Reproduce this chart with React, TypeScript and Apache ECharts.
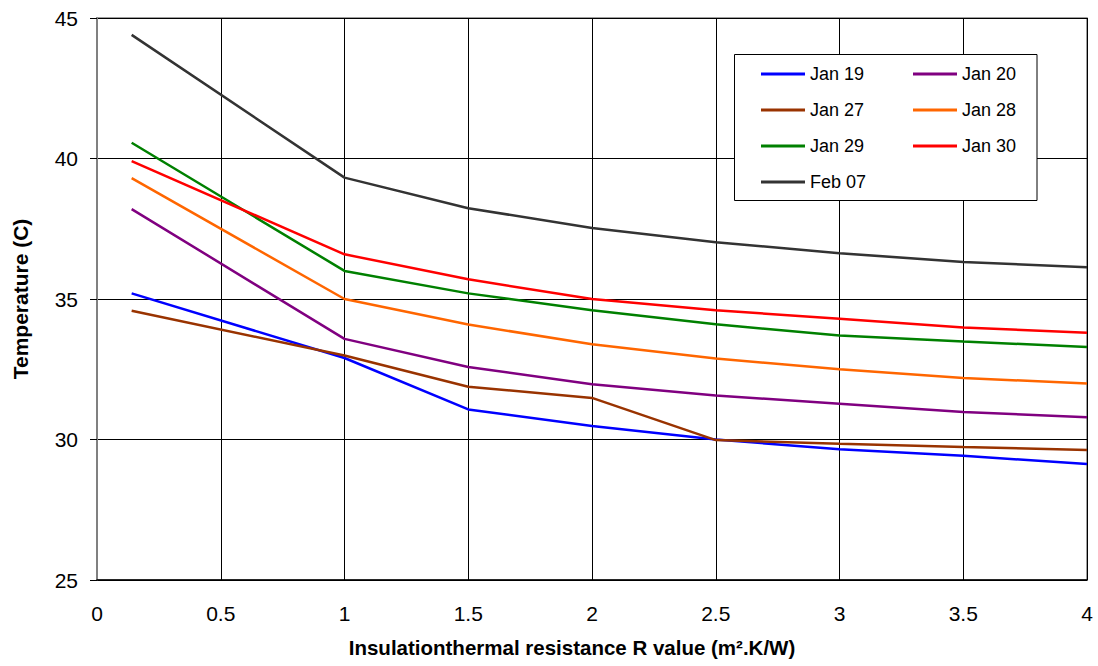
import React, { useEffect, useRef } from "react";
import * as echarts from "echarts";

const xValues = [0.14, 1, 1.5, 2, 2.5, 3, 3.5, 4];
const seriesNames = ["Jan 19", "Jan 20", "Jan 27", "Jan 28", "Jan 29", "Jan 30", "Feb 07"];
const jan19 = [35.2, 32.9, 31.07, 30.48, 30.0, 29.65, 29.42, 29.13];
const jan20 = [38.2, 33.58, 32.58, 31.97, 31.57, 31.27, 30.98, 30.79];
const jan27 = [34.58, 32.99, 31.88, 31.48, 29.98, 29.85, 29.73, 29.63];
const jan28 = [39.3, 35.0, 34.09, 33.39, 32.88, 32.5, 32.19, 31.99];
const jan29 = [40.56, 36.0, 35.2, 34.6, 34.1, 33.7, 33.49, 33.29];
const jan30 = [39.91, 36.59, 35.7, 35.0, 34.6, 34.3, 33.99, 33.8];
const feb07 = [44.4, 39.32, 38.23, 37.53, 37.02, 36.63, 36.32, 36.13];
const seriesValues = [jan19, jan20, jan27, jan28, jan29, jan30, feb07];
const seriesColors = ["#0000FF", "#800080", "#993300", "#FF6600", "#008000", "#FF0000", "#333333"];
const legendCol1 = ["Jan 19", "Jan 27", "Jan 29", "Feb 07"];
const legendCol2 = ["Jan 20", "Jan 28", "Jan 30"];
const xTitle = "Insulationthermal resistance R value (m².K/W)";
const yTitle = "Temperature (C)";

const FONT = "'Liberation Sans', Arial, sans-serif";

export default function App() {
  const ref = useRef<HTMLDivElement>(null);
  useEffect(() => {
    if (!ref.current) return;
    const chart = echarts.init(ref.current, undefined, { renderer: "svg" });
    const legendCommon = {
      orient: "vertical" as const,
      top: 64,
      padding: 0,
      icon: "rect",
      itemWidth: 44,
      itemHeight: 3,
      itemGap: 16,
      z: 20,
      textStyle: { fontFamily: FONT, fontSize: 18, color: "#000", lineHeight: 20 },
      selectedMode: false,
    };
    chart.setOption({
      animation: false,
      backgroundColor: "#fff",
      textStyle: { fontFamily: FONT },
      grid: {
        left: 97,
        right: 11,
        top: 18,
        bottom: 86,
        show: true,
        borderColor: "#808080",
        borderWidth: 1.5,
      },
      legend: [
        { ...legendCommon, left: 761, data: legendCol1 },
        { ...legendCommon, left: 913, data: legendCol2 },
      ],
      graphic: [
        {
          type: "rect",
          z: 15,
          shape: { x: 734.5, y: 54.5, width: 302.5, height: 146 },
          style: { fill: "#fff", stroke: "#000", lineWidth: 1 },
        },
      ],
      xAxis: {
        type: "value",
        min: 0,
        max: 4,
        interval: 0.5,
        name: xTitle,
        nameLocation: "middle",
        nameGap: 57,
        nameTextStyle: {
          fontFamily: FONT,
          fontSize: 20.5,
          fontWeight: "bold",
          color: "#000",
          padding: [0, 40, 0, 0],
        },
        axisLine: { show: true, lineStyle: { color: "#000", width: 1.5 } },
        axisTick: { show: false },
        axisLabel: { fontFamily: FONT, fontSize: 21, color: "#000", margin: 23 },
        splitLine: { show: true, lineStyle: { color: "#000", width: 1 } },
      },
      yAxis: {
        type: "value",
        min: 25,
        max: 45,
        interval: 5,
        name: yTitle,
        nameLocation: "middle",
        nameGap: 66,
        nameTextStyle: {
          fontFamily: FONT,
          fontSize: 21,
          fontWeight: "bold",
          color: "#000",
        },
        axisLine: { show: true, lineStyle: { color: "#808080", width: 2 } },
        axisTick: { show: true, length: 7, lineStyle: { color: "#000", width: 1 } },
        axisLabel: { fontFamily: FONT, fontSize: 21, color: "#000", margin: 19 },
        splitLine: { show: true, lineStyle: { color: "#000", width: 1 } },
      },
      series: seriesNames.map((name, i) => ({
        name,
        type: "line",
        data: xValues.map((x, j) => [x, seriesValues[i][j]]),
        showSymbol: false,
        symbol: "none",
        color: seriesColors[i],
        lineStyle: { color: seriesColors[i], width: 2.5 },
        z: 2,
      })),
    });
    return () => chart.dispose();
  }, []);
  return (
    <div
      ref={ref}
      style={{ position: "fixed", left: 0, top: 0, width: 1098, height: 666 }}
    />
  );
}
